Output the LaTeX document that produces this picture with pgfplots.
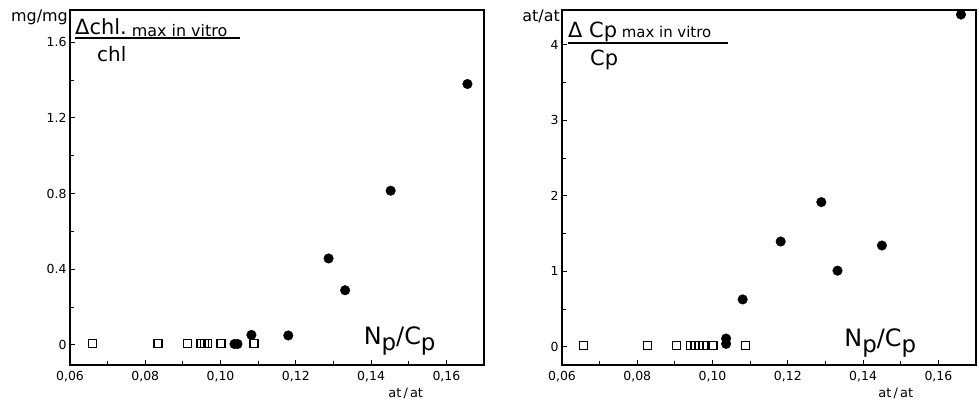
\documentclass[border=0pt]{standalone}
\usepackage{fontspec}
\setmainfont{DejaVu Sans}
\usepackage{pgfplots}
\pgfplotsset{compat=1.18}

\pgfplotsset{
  panel/.style={
    scale only axis, width=414bp, height=355bp, anchor=south west,
    xmin=0.06, xmax=0.17,
    xtick={0.06,0.08,0.10,0.12,0.14,0.16},
    xticklabels={{0,06},{0,08},{0,10},{0,12},{0,14},{0,16}},
    minor x tick num=1, minor y tick num=1,
    tick align=inside, xtick pos=bottom, ytick pos=left,
    axis line style={line width=1.2pt},
    every tick/.style={black, line width=0.9pt},
    major tick length=5bp, minor tick length=4bp,
    tick label style={font=\fontsize{12.5}{14}\selectfont},
    xticklabel style={yshift=-3bp},
    /pgf/number format/assume math mode=true,
    clip=false,
  },
  opensq/.style={only marks, mark=square, mark size=4bp, mark options={line width=1.3pt, fill=white}},
  dot/.style={only marks, mark=*, mark size=4.8bp, mark options={fill=black}},
}
\newcommand{\npcp}{\fontsize{24}{26}\selectfont N\raisebox{-6bp}{\fontsize{23}{24}\selectfont p}/C\raisebox{-6bp}{\fontsize{23}{24}\selectfont p}}

\begin{document}
\begin{tikzpicture}
\useasboundingbox (0,0) rectangle (979bp,401bp);

% left panel: chlorophyll
\begin{axis}[panel, at={(70bp,36bp)},
    ymin=-0.106, ymax=1.77,
    ytick={0,0.4,0.8,1.2,1.6}, yticklabels={0,0.4,0.8,1.2,1.6}]
\addplot[opensq] coordinates {
  (0.0660,0.007) (0.0834,0.007) (0.0913,0.007) (0.0948,0.007)
  (0.0957,0.007) (0.0966,0.007) (0.1001,0.007) (0.1089,0.007)};
\addplot[dot] coordinates {
  (0.1037,0.005) (0.1045,0.005) (0.1082,0.053) (0.1180,0.050)
  (0.1287,0.457) (0.1331,0.289) (0.1452,0.815) (0.1656,1.379)};
\node[anchor=base east, inner sep=0pt, font=\fontsize{16}{18}\selectfont]
  at ([xshift=-2bp,yshift=-12bp]rel axis cs:0,1) {mg/mg};
\node[anchor=base west, inner sep=0pt]
  at ([xshift=5bp,yshift=-25bp]rel axis cs:0,1)
  {{\fontsize{21}{23}\selectfont Δchl.}\raisebox{-2bp}{\fontsize{16}{18}\selectfont\ max in vitro}};
\draw[line width=1.3pt] ([xshift=5bp,yshift=-28bp]rel axis cs:0,1) -- ([xshift=170bp,yshift=-28bp]rel axis cs:0,1);
\node[anchor=base west, inner sep=0pt, font=\fontsize{20}{22}\selectfont]
  at ([xshift=27bp,yshift=-52bp]rel axis cs:0,1) {chl};
\node[anchor=base west, inner sep=0pt] at (axis cs:0.138,0) {\npcp};
\node[font=\fontsize{13}{15}\selectfont] at ([yshift=-28bp]axis cs:0.1492,-0.106) {at\,/\,at};
\end{axis}

% right panel: carbon
\begin{axis}[panel, at={(562bp,36bp)},
    ymin=-0.24, ymax=4.46,
    ytick={0,1,2,3,4}]
\addplot[opensq] coordinates {
  (0.0657,0.02) (0.0828,0.02) (0.0905,0.02) (0.0942,0.02) (0.0953,0.02)
  (0.0964,0.02) (0.0976,0.02) (0.1001,0.02) (0.1087,0.02)};
\addplot[dot] coordinates {
  (0.1036,0.04) (0.1036,0.11) (0.1080,0.628) (0.1181,1.395)
  (0.1289,1.917) (0.1332,1.009) (0.1450,1.342) (0.1660,4.40)};
\node[anchor=base east, inner sep=0pt, font=\fontsize{16}{18}\selectfont]
  at ([xshift=-2bp,yshift=-12bp]rel axis cs:0,1) {at/at};
\node[anchor=base west, inner sep=0pt]
  at ([xshift=6bp,yshift=-28bp]rel axis cs:0,1)
  {{\fontsize{21}{23}\selectfont Δ Cp}\raisebox{0bp}{\fontsize{15}{17}\selectfont\ max in vitro}};
\draw[line width=1.1pt] ([xshift=6bp,yshift=-33bp]rel axis cs:0,1) -- ([xshift=166bp,yshift=-33bp]rel axis cs:0,1);
\node[anchor=base west, inner sep=0pt, font=\fontsize{21}{23}\selectfont]
  at ([xshift=28bp,yshift=-56bp]rel axis cs:0,1) {Cp};
\node[anchor=base west, inner sep=0pt] at (axis cs:0.135,0) {\npcp};
\node[font=\fontsize{13}{15}\selectfont] at ([yshift=-28bp]axis cs:0.1487,-0.24) {at\,/\,at};
\end{axis}
\end{tikzpicture}
\end{document}
